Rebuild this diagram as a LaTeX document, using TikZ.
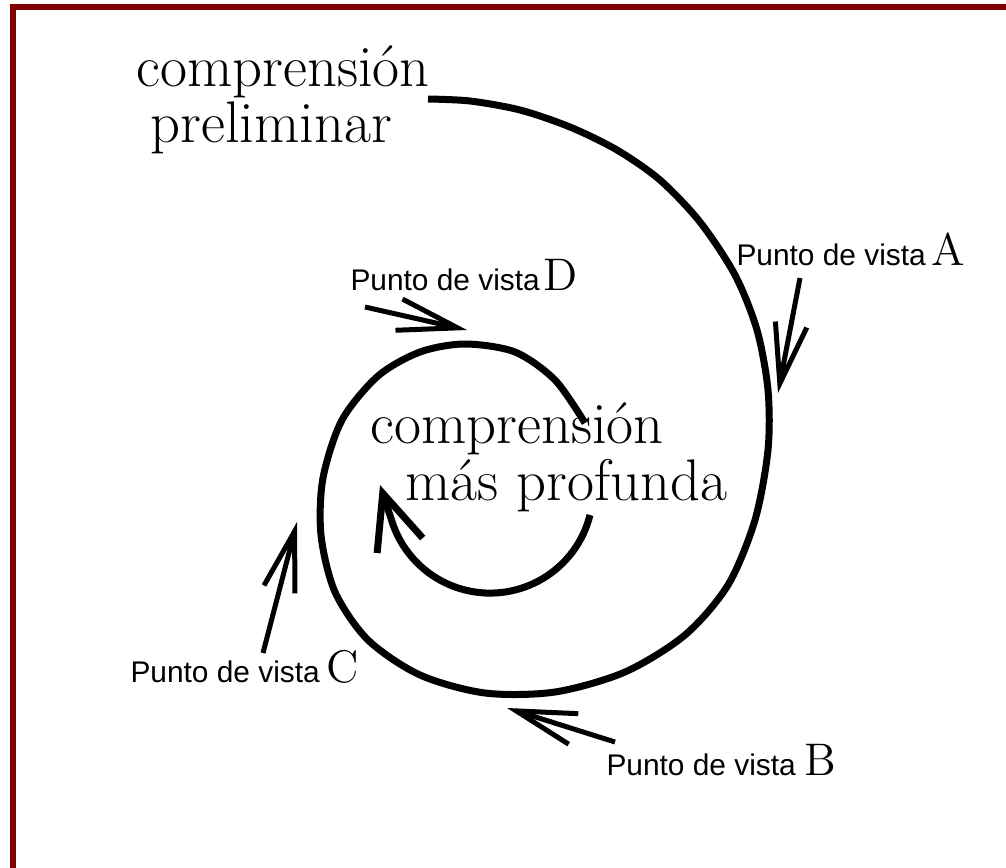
\documentclass[tikz,border=0pt]{standalone}
\usepackage{fontspec}
\newfontfamily\vistafont{Liberation Sans}
\usetikzlibrary{arrows.meta}
\definecolor{borderred}{HTML}{800000}
\newcommand\letra[1]{{\rmfamily\fontsize{13}{14}\selectfont #1}}

\begin{document}
\begin{tikzpicture}
  [x=0.1mm,y=-0.1mm,line width=0.7mm,
   every node/.style={inner sep=0pt,anchor=base west},
   idea/.style={align=left,font=\fontsize{16.7}{14.2}\selectfont},
   vista/.style={font=\fontsize{8.5}{10}\vistafont},
   mira/.style={line width=0.5mm,-{Straight Barb[length=6mm,width=3.2mm]}}]
  \useasboundingbox (0,0) rectangle (1006,868);
  \draw[borderred,line width=0.6mm] (13,868) -- (13,7) -- (1006,7);

  \node[idea] (prelim) at (133,142) {comprensión\\\hspace*{1.4mm}preliminar};
  \node[idea,font=\fontsize{16.7}{13.4}\selectfont] (profunda) at (367,500)
    {comprensión\\\hspace*{3.5mm}más profunda};

  \node[vista] (vistaA) at (733,265) {Punto de vista\kern1.5pt\letra{A}};
  \node[vista] (vistaB) at (603,775) {Punto de vista \letra{B}};
  \node[vista] (vistaC) at (127,682) {Punto de vista\kern2pt\letra{C}};
  \node[vista] (vistaD) at (347,290) {Punto de vista\kern1pt\letra{D}};

  % the spiral
  \draw plot[smooth] coordinates {(428,99) (470,101) (520,110) (570,127)
    (617,150) (660,180) (700,222) (735,275) (757,330) (768,390) (768,450)
    (755,520) (728,585) (685,635) (625,672) (555,692) (485,693) (420,675)
    (368,640) (335,592) (321,535) (323,478) (342,420) (378,376) (420,352)
    (465,344) (515,352) (555,380) (585,423)};
  \coordinate (giro) at (590,515);
  \coordinate (punta) at (380,485);
  \draw[-{Straight Barb[length=5.5mm,width=4.8mm]}]
    (giro) arc[start angle=14,end angle=160,radius=103] -- (punta);

  \coordinate (a0) at (800,278); \coordinate (a1) at (778,393);
  \coordinate (b0) at (615,742); \coordinate (b1) at (507,708);
  \coordinate (c0) at (263,653); \coordinate (c1) at (297,522);
  \coordinate (d0) at (365,307); \coordinate (d1) at (467,330);
  \foreach \from/\to in {a0/a1,b0/b1,c0/c1,d0/d1}
    \draw[mira] (\from) -- (\to);
\end{tikzpicture}
\end{document}
